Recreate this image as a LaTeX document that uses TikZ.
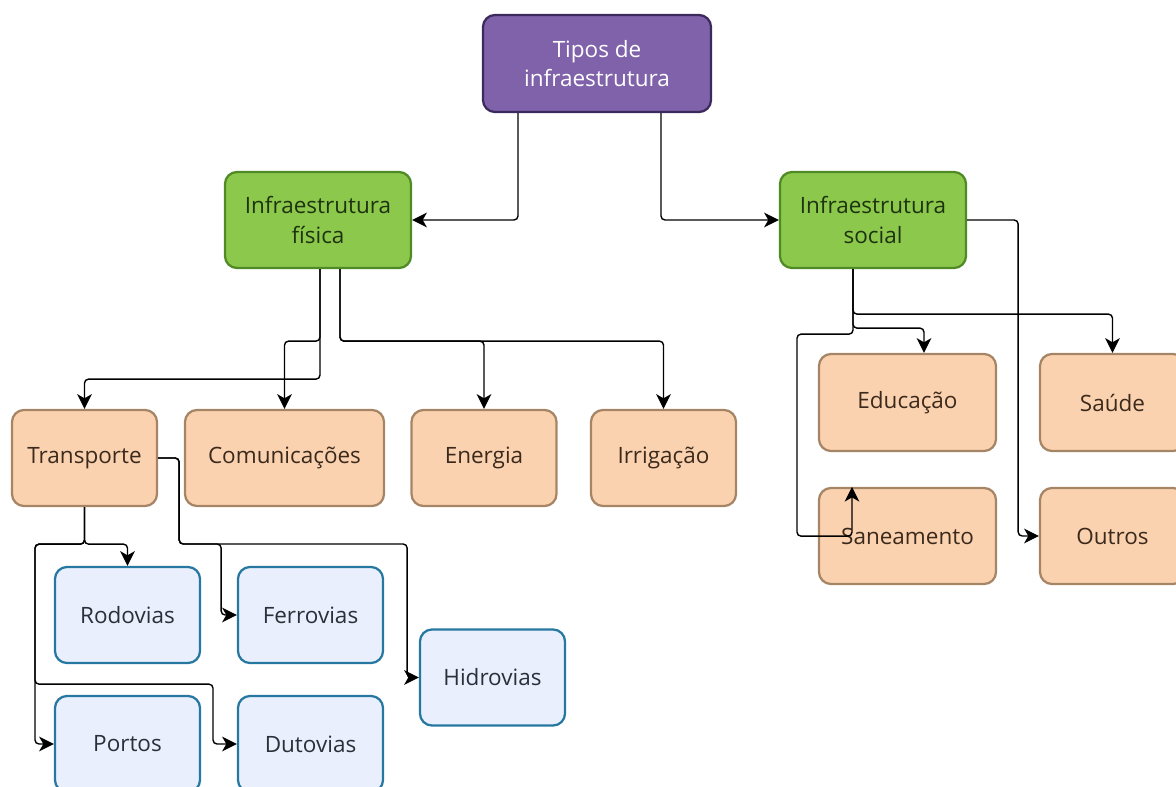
\documentclass[tikz,border=0pt]{standalone}
\usepackage{fontspec}
\setmainfont{Open Sans}
\usetikzlibrary{arrows.meta,calc}

\definecolor{rootfill}{HTML}{7F62A9}
\definecolor{rootline}{HTML}{3C2A5C}
\definecolor{catfill}{HTML}{8CC84B}
\definecolor{catline}{HTML}{4F8A25}
\definecolor{cattext}{HTML}{1E3310}
\definecolor{itemfill}{HTML}{FBD2B0}
\definecolor{itemline}{HTML}{A58566}
\definecolor{itemtext}{HTML}{3B2A1C}
\definecolor{subfill}{HTML}{E9EFFC}
\definecolor{subline}{HTML}{2678A0}
\definecolor{subtext}{HTML}{2B2F38}

\tikzset{
  box/.style={draw, rounded corners=0.3cm, line width=1.6pt, align=center,
    inner sep=0pt, font=\fontsize{16}{21}\selectfont,
    minimum width=3.625cm, minimum height=2.4cm},
  rootbox/.style={box, fill=rootfill, draw=rootline, text=white},
  catbox/.style={box, fill=catfill, draw=catline, text=cattext, minimum width=4.65cm},
  itembox/.style={box, fill=itemfill, draw=itemline, text=itemtext},
  subbox/.style={box, fill=subfill, draw=subline, text=subtext},
  link/.style={draw=black, line width=1pt, rounded corners=0.1cm,
    -{Stealth[length=10.5pt,width=10.5pt,inset=3pt]}}
}

\begin{document}
\begin{tikzpicture}[x=0.025cm,y=-0.025cm]
\useasboundingbox (0,0) rectangle (1176,787);

% root and categories
\node[rootbox, minimum width=5.7cm, minimum height=2.425cm] (tipos) at (597,63.5) {Tipos de\\infraestrutura};
\node[catbox] (fis) at (318,220) {Infraestrutura\\física};
\node[catbox] (soc) at (873,220) {Infraestrutura\\social};

% physical infrastructure
\node[itembox] (trans) at (84.5,458) {Transporte};
\node[itembox, minimum width=4.975cm] (com) at (284.5,458) {Comunicações};
\node[itembox] (ene) at (484,458) {Energia};
\node[itembox] (irr) at (663.5,458) {Irrigação};

% social infrastructure
\node[itembox, minimum width=4.425cm, minimum height=2.425cm] (edu) at (907.5,402.5) {Educação};
\node[itembox, minimum width=4.425cm] (san) at (907.5,536) {Saneamento};
\node[itembox, minimum height=2.425cm] (sau) at (1112.5,402.5) {Saúde};
\node[itembox] (out) at (1112.5,536) {Outros};

% transport modes
\node[subbox] (rod) at (127.5,615) {Rodovias};
\node[subbox] (fer) at (310.5,615) {Ferrovias};
\node[subbox] (hid) at (492.5,677.5) {Hidrovias};
\node[subbox] (por) at (127.5,744) {Portos};
\node[subbox] (dut) at (310.5,744) {Dutovias};

% root to categories
\draw[link] ($(tipos.south)+(-79,0)$) |- (fis.east);
\draw[link] ($(tipos.south)+(64,0)$) |- (soc.west);

% physical branches
\draw[link] ($(fis.south)+(2,0)$) -- ++(0,110) -| (trans.north);
\draw[link] ($(fis.south)+(2,0)$) -- ++(0,72) -| (com.north);
\draw[link] ($(fis.south)+(22,0)$) -- ++(0,72) -| (ene.north);
\draw[link] ($(fis.south)+(22,0)$) -- ++(0,72) -| (irr.north);

% transport branches
\draw[link] (trans.south) -- ++(0,37) -| (rod.north);
\draw[link] (trans.south) -- ++(0,37) -- ++(-49.5,0) |- (por.west);
\draw[link] (trans.south) -- ++(0,37) -- ++(-49.5,0) -- ++(0,140) -- ++(178,0) |- (dut.west);
\draw[link] (trans.east) -- ++(21,0) -- ++(0,86) -- ++(42,0) |- (fer.west);
\draw[link] (trans.east) -- ++(21,0) -- ++(0,86) -- ++(228,0) |- (hid.west);

% social branches
\draw[link] ($(soc.south)+(-20,0)$) -- ++(0,45) -| (sau.north);
\draw[link] ($(soc.south)+(-20,0)$) -- ++(0,59) -| ($(edu.north)+(16.5,0)$);
\draw[link] ($(soc.south)+(-20,0)$) -- ++(0,65) -- ++(-56,0) -- ++(0,202) -| ($(san.north)+(-55.5,0)$);
\draw[link] (soc.east) -- ++(51,0) |- (out.west);
\end{tikzpicture}
\end{document}
